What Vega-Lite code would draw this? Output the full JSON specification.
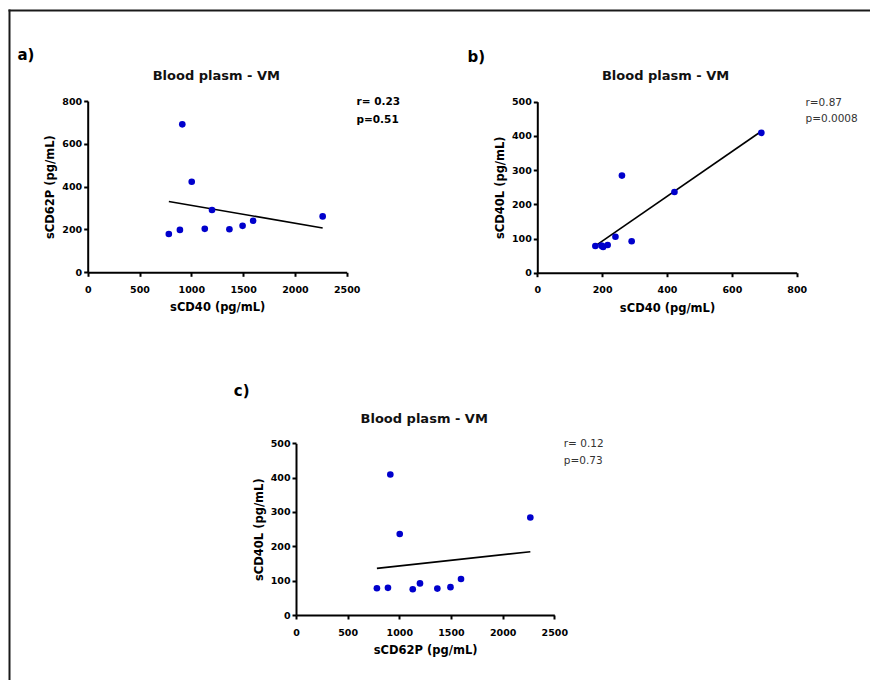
{
  "$schema": "https://vega.github.io/schema/vega-lite/v6.json",
  "width": 861,
  "height": 670,
  "autosize": "none",
  "padding": {"left": 9, "top": 10, "right": 0, "bottom": 0},
  "background": "white",
  "config": {
    "font": "DejaVu Sans",
    "view": {"stroke": null},
    "axis": {
      "grid": false, "domainColor": "#000", "domainWidth": 2, "tickColor": "#000", "tickWidth": 2, "tickSize": 4,
      "labelFont": "DejaVu Sans", "labelFontSize": 9.5, "labelFontWeight": "bold", "labelColor": "#000",
      "labelFlush": false, "labelOverlap": false, "format": "d",
      "titleFont": "DejaVu Sans", "titleFontSize": 11.5, "titleFontWeight": "bold", "titleColor": "#000"
    },
    "axisX": {"labelPadding": 8, "titlePadding": 8},
    "axisY": {"labelPadding": 2, "titlePadding": 6}
  },
  "datasets": {
    "pts": [
      {"sCD62P": 783, "sCD40": 179, "sCD40L": 78},
      {"sCD62P": 890, "sCD40": 198, "sCD40L": 79},
      {"sCD62P": 913, "sCD40": 691, "sCD40L": 409},
      {"sCD62P": 1004, "sCD40": 423, "sCD40L": 236},
      {"sCD62P": 1130, "sCD40": 203, "sCD40L": 75},
      {"sCD62P": 1200, "sCD40": 291, "sCD40L": 92},
      {"sCD62P": 1368, "sCD40": 201, "sCD40L": 77},
      {"sCD62P": 1495, "sCD40": 217, "sCD40L": 81},
      {"sCD62P": 1597, "sCD40": 241, "sCD40L": 105},
      {"sCD62P": 2268, "sCD40": 261, "sCD40L": 284}
    ]
  },
  "data": {"name": "pts"},
  "resolve": {"scale": {"x": "independent", "y": "independent"}, "axis": {"x": "independent", "y": "independent"}},
  "layer": [
    {
      "transform": [{"regression": "sCD40", "on": "sCD62P"}],
      "mark": {"type": "line", "color": "#000", "strokeWidth": 1.6},
      "encoding": {
        "x": {"field": "sCD62P", "type": "quantitative", "scale": {"domain": [-759.65, 7551.16], "range": [0, 861]},
              "axis": {"orient": "bottom", "offset": -605, "values": [-759.5, 1237],
                       "labelExpr": "datum.value < 0 ? '' : 'Blood plasm - VM'",
                       "domain": false, "ticks": false, "tickSize": 0, "labelPadding": 0, "labelBaseline": "middle",
                       "labelFontSize": 13, "labelColor": "#111", "labelLimit": 400,
                       "grid": true, "gridColor": "#1a1a1a", "gridWidth": 2, "gridCap": "square",
                       "gridOpacity": {"condition": {"test": "datum.value < 0", "value": 1}, "value": 0},
                       "title": "a)", "titleX": 8, "titleY": -21, "titleAlign": "left", "titleBaseline": "middle", "titleFontSize": 15}},
        "y": {"field": "sCD40", "type": "quantitative", "scale": {"domain": [-1904.03, 1224.98], "range": [670, 0]},
              "axis": {"orient": "right", "offset": -514, "values": [1224.9, 797, 714.5],
                       "labelExpr": "datum.value > 1000 ? '' : datum.value > 750 ? 'r= 0.23' : 'p=0.51'",
                       "domain": false, "ticks": false, "tickSize": 0, "labelPadding": 0, "labelAlign": "left", "labelBaseline": "middle",
                       "labelFontSize": 10.5, "labelFontWeight": "bold", "labelColor": "#000",
                       "grid": true, "gridColor": "#1a1a1a", "gridWidth": 2, "gridCap": "square",
                       "gridOpacity": {"condition": {"test": "datum.value > 1000", "value": 1}, "value": 0},
                       "title": null}}
      }
    },
    {
      "mark": {"type": "circle", "size": 44, "color": "#0000cc", "opacity": 1},
      "encoding": {
        "x": {"field": "sCD62P", "type": "quantitative", "scale": {"domain": [0, 2500], "range": [78.7, 337.7]},
              "axis": {"orient": "bottom", "offset": -407.7, "values": [0, 500, 1000, 1500, 2000, 2500], "title": "sCD40 (pg/mL)"}},
        "y": {"field": "sCD40", "type": "quantitative", "scale": {"domain": [0, 800], "range": [262.3, 91]},
              "axis": {"orient": "left", "offset": -78.7, "values": [0, 200, 400, 600, 800], "title": "sCD62P (pg/mL)"}}
      }
    },
    {
      "transform": [{"regression": "sCD40L", "on": "sCD40"}],
      "mark": {"type": "line", "color": "#000", "strokeWidth": 1.6},
      "encoding": {
        "x": {"field": "sCD40", "type": "quantitative", "scale": {"domain": [0, 800], "range": [528.3, 787.7]},
              "axis": {"orient": "bottom", "offset": -605, "values": [394], "labelExpr": "'Blood plasm - VM'",
                       "domain": false, "ticks": false, "tickSize": 0, "labelPadding": 0, "labelBaseline": "middle",
                       "labelFontSize": 13, "labelColor": "#111", "labelLimit": 400,
                       "title": "b)", "titleX": 458, "titleY": -19, "titleAlign": "left", "titleBaseline": "middle", "titleFontSize": 15}},
        "y": {"field": "sCD40L", "type": "quantitative", "scale": {"domain": [0, 500], "range": [262.7, 91.7]},
              "axis": {"orient": "right", "offset": -65, "values": [498.2, 451.5], "labelExpr": "datum.value > 475 ? 'r=0.87' : 'p=0.0008'",
                       "domain": false, "ticks": false, "tickSize": 0, "labelPadding": 0, "labelAlign": "left", "labelBaseline": "middle",
                       "labelFontSize": 10.5, "labelFontWeight": "normal", "labelColor": "#333", "title": null}}
      }
    },
    {
      "mark": {"type": "circle", "size": 44, "color": "#0000cc", "opacity": 1},
      "encoding": {
        "x": {"field": "sCD40", "type": "quantitative", "scale": {"domain": [0, 800], "range": [528.3, 787.7]},
              "axis": {"orient": "bottom", "offset": -407.3, "values": [0, 200, 400, 600, 800], "title": "sCD40 (pg/mL)"}},
        "y": {"field": "sCD40L", "type": "quantitative", "scale": {"domain": [0, 500], "range": [262.7, 91.7]},
              "axis": {"orient": "left", "offset": -528.3, "values": [0, 100, 200, 300, 400, 500], "title": "sCD40L (pg/mL)"}}
      }
    },
    {
      "transform": [{"regression": "sCD40L", "on": "sCD62P"}],
      "mark": {"type": "line", "color": "#000", "strokeWidth": 1.6},
      "encoding": {
        "x": {"field": "sCD62P", "type": "quantitative", "scale": {"domain": [0, 2500], "range": [287, 545.3]},
              "axis": {"orient": "bottom", "offset": -261.7, "values": [1236], "labelExpr": "'Blood plasm  - VM'",
                       "domain": false, "ticks": false, "tickSize": 0, "labelPadding": 0, "labelBaseline": "middle",
                       "labelFontSize": 13, "labelColor": "#111", "labelLimit": 400,
                       "title": "c)", "titleX": 224.3, "titleY": -28.3, "titleAlign": "left", "titleBaseline": "middle", "titleFontSize": 15}},
        "y": {"field": "sCD40L", "type": "quantitative", "scale": {"domain": [0, 500], "range": [605, 433.3]},
              "axis": {"orient": "right", "offset": -306.7, "values": [498, 449.3], "labelExpr": "datum.value > 475 ? 'r= 0.12' : 'p=0.73'",
                       "domain": false, "ticks": false, "tickSize": 0, "labelPadding": 0, "labelAlign": "left", "labelBaseline": "middle",
                       "labelFontSize": 10.5, "labelFontWeight": "normal", "labelColor": "#333", "title": null}}
      }
    },
    {
      "mark": {"type": "circle", "size": 44, "color": "#0000cc", "opacity": 1},
      "encoding": {
        "x": {"field": "sCD62P", "type": "quantitative", "scale": {"domain": [0, 2500], "range": [287, 545.3]},
              "axis": {"orient": "bottom", "offset": -65, "values": [0, 500, 1000, 1500, 2000, 2500], "title": "sCD62P (pg/mL)"}},
        "y": {"field": "sCD40L", "type": "quantitative", "scale": {"domain": [0, 500], "range": [605, 433.3]},
              "axis": {"orient": "left", "offset": -287, "values": [0, 100, 200, 300, 400, 500], "title": "sCD40L (pg/mL)"}}
      }
    }
  ]
}
